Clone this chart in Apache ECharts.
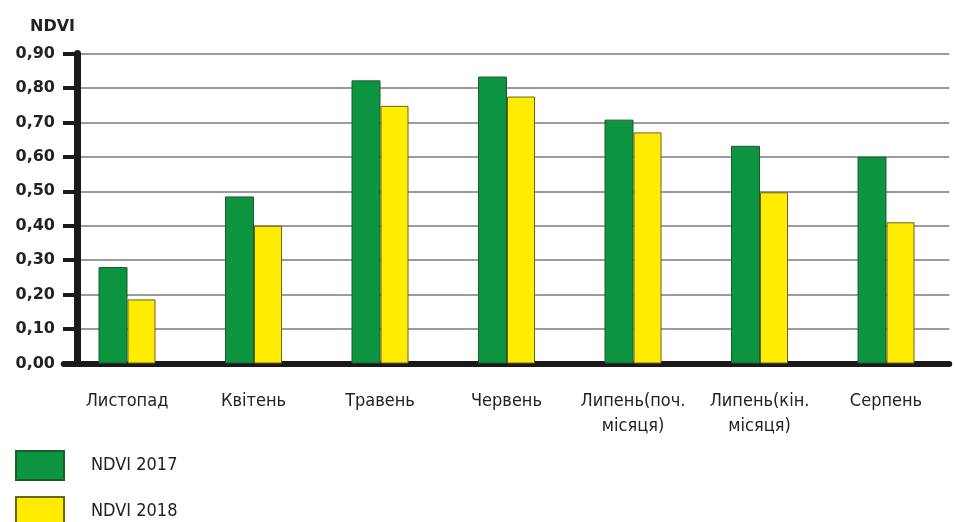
<!DOCTYPE html>
<html>
<head>
<meta charset="utf-8">
<script src="https://cdn.jsdelivr.net/npm/echarts@6/dist/echarts.min.js"></script>
<style>
html,body{margin:0;padding:0;background:#fff;}
#chart{width:955px;height:522px;}
</style>
</head>
<body>
<div id="chart"></div>
<script>
var categories = ['Листопад', 'Квітень', 'Травень', 'Червень', 'Липень(поч.\nмісяця)', 'Липень(кін.\nмісяця)', 'Серпень'];
var ndvi2017 = [0.28, 0.485, 0.822, 0.833, 0.708, 0.632, 0.60];
var ndvi2018 = [0.186, 0.40, 0.748, 0.775, 0.671, 0.497, 0.41];
var seriesNames = ['NDVI 2017', 'NDVI 2018'];

var FONT = "'Liberation Sans Narrow', 'DejaVu Sans Condensed', 'Liberation Sans', sans-serif";
var BOLD = "'DejaVu Sans', 'Liberation Sans', sans-serif";
function legendFor(name, top) {
  return {
    orient: 'vertical', left: 15, top: top, padding: 0,
    itemWidth: 48, itemHeight: 29,
    icon: 'rect',
    textStyle: {fontFamily: FONT, fontSize: 18, color: '#222', padding: [0, 0, 0, 22]},
    data: [name]
  };
}
var chart = echarts.init(document.getElementById('chart'), null, {renderer: 'canvas'});
chart.setOption({
  animation: false,
  backgroundColor: '#ffffff',
  title: {
    text: 'NDVI', left: 30, top: 19, padding: 0,
    textStyle: {fontFamily: BOLD, fontWeight: 'bold', fontSize: 16, color: '#222'}
  },
  legend: [legendFor(seriesNames[0], 450), legendFor(seriesNames[1], 496)],
  grid: {left: 63.75, right: 5.75, top: 53.5, bottom: 158.5, containLabel: false},
  xAxis: {
    type: 'category',
    data: categories,
    axisLine: {show: true, lineStyle: {color: '#1a1a1a', width: 6}},
    axisTick: {show: false},
    axisLabel: {interval: 0, margin: 25, fontFamily: FONT, fontSize: 18, color: '#222', lineHeight: 25}
  },
  yAxis: {
    type: 'value',
    min: 0, max: 0.9, interval: 0.1,
    offset: -13.25,
    axisLine: {show: true, lineStyle: {color: '#1a1a1a', width: 7}},
    axisTick: {show: true, length: 14, lineStyle: {color: '#1a1a1a', width: 4}},
    axisLabel: {
      margin: 22,
      fontFamily: BOLD, fontWeight: 'bold', fontSize: 16, color: '#222',
      formatter: function (v) { return v.toFixed(2).replace('.', ','); }
    },
    splitLine: {show: true, lineStyle: {color: '#7a7a7a', width: 1.5}}
  },
  series: [
    {
      name: seriesNames[0], type: 'bar', data: ndvi2017,
      barWidth: 29, barGap: '0%',
      itemStyle: {color: '#0d9441', borderColor: '#1d5a2c', borderWidth: 1}
    },
    {
      name: seriesNames[1], type: 'bar', data: ndvi2018,
      barWidth: 28,
      itemStyle: {color: '#ffec00', borderColor: '#6b6420', borderWidth: 1}
    }
  ]
});
</script>
</body>
</html>
